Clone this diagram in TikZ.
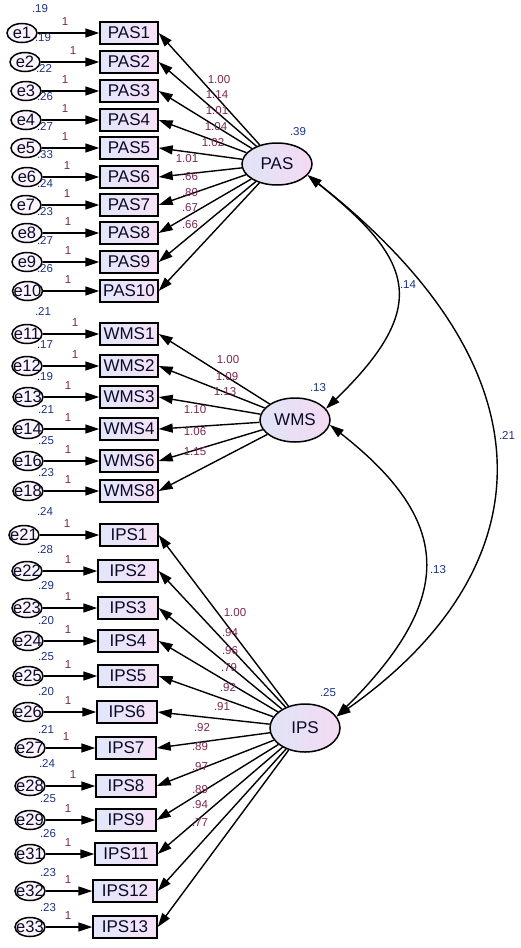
\documentclass[tikz,border=0pt]{standalone}
\usepackage{fontspec}
\setmainfont{Liberation Sans}
\usetikzlibrary{shapes.geometric,arrows.meta}
\definecolor{boxL}{RGB}{226,230,250}
\definecolor{boxR}{RGB}{247,226,246}
\definecolor{latL}{RGB}{224,228,246}
\definecolor{latR}{RGB}{244,218,242}
\definecolor{errfill}{RGB}{252,244,252}
\definecolor{wtcol}{RGB}{120,40,80}
\definecolor{varcol}{RGB}{30,50,130}
\definecolor{txtcol}{RGB}{10,10,40}
\begin{document}
\begin{tikzpicture}[x=1pt,y=-1pt,
  obs/.style={draw, line width=1.4pt, rectangle, minimum width=58pt, minimum height=22pt,
    inner xsep=1pt, inner ysep=0pt, left color=boxL, right color=boxR, text=txtcol,
    font=\fontsize{17}{20}\selectfont},
  err/.style={draw, ellipse, line width=1.5pt, minimum width=30pt, minimum height=19pt,
    inner sep=0pt, fill=errfill},
  errtxt/.style={font=\fontsize{16.5}{18}\selectfont, text=txtcol, inner sep=0pt},
  lat/.style={draw, ellipse, line width=1.5pt, minimum width=70pt, minimum height=43pt,
    inner sep=0pt, left color=latL, right color=latR, text=txtcol,
    font=\fontsize{17}{20}\selectfont},
  wt/.style={font=\fontsize{11.5}{13}\selectfont, text=wtcol, inner sep=0pt},
  var/.style={font=\fontsize{11.5}{13}\selectfont, text=varcol, inner sep=0pt},
  arr/.style={-{Triangle[length=14pt,width=9pt]}, line width=1.4pt},
  cov/.style={{Triangle[length=14pt,width=9pt]}-{Triangle[length=14pt,width=9pt]}, line width=1.4pt}
]
\useasboundingbox (0,0) rectangle (521,948);

% latent variables
\node[lat, minimum height=42pt] (PAS) at (277,164) {PAS};
\node[lat, minimum height=44pt] (WMS) at (295,420) {WMS};
\node[lat, minimum height=48pt] (IPS) at (305,728) {IPS};
\node[var] (vPAS) at (298,132) {.39};
\node[var] (vWMS) at (318,388) {.13};
\node[var] (vIPS) at (328,693) {.25};

% PAS block
\foreach \i/\ex/\y/\one in {1/22/33/65, 2/25/62/73, 3/26/91/65, 4/26/120/65, 5/26/148/65,
  6/27/177/67, 7/26/205/67, 8/27/233/68, 9/27/262/68, 10/27.5/291/68}{
  \node[obs] (PAS\i) at (129,\y) {PAS\i};
  \node[err, label={[errtxt]center:e\i}] (e\i) at (\ex,\y) {};
  \draw[arr] (e\i) -- (PAS\i);
  \node[wt] (one\i) at (\one,\y-11) {1};
  \draw[arr] (PAS) -- (PAS\i.east);
}

% WMS block
\foreach \i/\ex/\y/\one in {1/27/334/75, 2/27/366/75, 3/28/397/68, 4/28/429/68, 6/28/461/68, 8/28/491/68}{
  \pgfmathtruncatemacro{\k}{10+\i}
  \node[obs] (WMS\i) at (129,\y) {WMS\i};
  \node[err, label={[errtxt]center:e\k}] (e\k) at (\ex,\y) {};
  \draw[arr] (e\k) -- (WMS\i);
  \node[wt] (one\k) at (\one,\y-11) {1};
  \draw[arr] (WMS) -- (WMS\i.east);
}

% IPS block
\foreach \i/\ex/\y/\one/\bx/\bw in {1/24/535/67/129/58, 2/27/571/68/128/60, 3/27/608/68/128/60,
  4/28/641/68/128/60, 5/28/676/68/128/60, 6/28/712/68/127/60, 7/30/748/66/126/60,
  8/30/786/73/126/60, 9/30/820/68/126/60, 11/30/854/68/126/62, 12/30/891/68/125/64, 13/30/927/68/125/64}{
  \pgfmathtruncatemacro{\k}{20+\i}
  \node[obs, minimum width=\bw pt] (IPS\i) at (\bx,\y) {IPS\i};
  \node[err, label={[errtxt]center:e\k}] (e\k) at (\ex,\y) {};
  \draw[arr] (e\k) -- (IPS\i);
  \node[wt] (one\k) at (\one,\y-11) {1};
  \draw[arr] (IPS) -- (IPS\i.east);
}

% error variances
\foreach \t/\x/\y [count=\c] in {.19/40/9, .19/43/38, .22/44/68, .26/45/97, .27/45/126, .33/45/155,
  .24/45/183, .23/45/212, .27/45/240, .26/45/269,
  .21/43/311, .17/45/345, .19/45/377, .21/46/409, .25/46/441, .23/46/473,
  .24/45/511, .28/45/550, .29/46/586, .20/46/621, .25/46/657, .20/46/692,
  .21/46/729, .24/47/763, .25/48/799, .26/48/834, .23/48/873, .23/48/908}{
  \node[var] (ev\c) at (\x,\y) {\t};
}

% loadings
\foreach \t/\x/\y [count=\c] in {1.00/219/80, 1.14/217/95, 1.01/217/111, 1.04/216/127, 1.02/213/143,
  1.01/187/159, .66/190/177, .80/190/193, .67/190/208, .66/190/225,
  1.00/228/360, 1.09/227/377, 1.13/225/392, 1.10/195/410, 1.06/195/432, 1.15/195/452,
  1.00/235/613, .94/230/633, .96/230/651, .79/229/668, .92/228/688, .91/222/707,
  .92/202/728, .89/200/747, .97/200/767, .89/200/790, .94/200/805, .77/200/823}{
  \node[wt] (ld\c) at (\x,\y) {\t};
}

% covariances
\draw[cov] (PAS.-20) .. controls (412,259) and (433,305) .. (WMS.20);
\draw[cov] (PAS.-20) .. controls (568,380) and (536,576) .. (IPS.20);
\draw[cov] (WMS.-8) .. controls (451,520) and (458,596) .. (IPS.20);
\node[var] (c14) at (408,285) {.14};
\node[var] (c21) at (507,435) {.21};
\node[var] (c13) at (438,570) {.13};
\end{tikzpicture}
\end{document}
